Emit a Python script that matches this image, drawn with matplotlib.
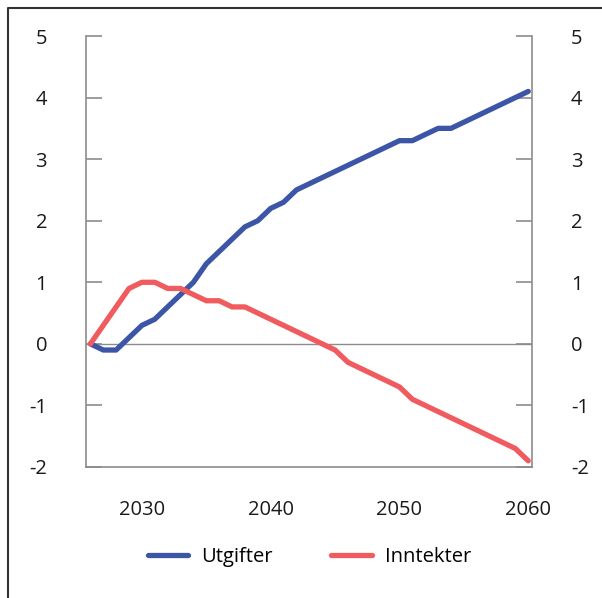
import matplotlib
matplotlib.use("Agg")
import matplotlib.pyplot as plt
from matplotlib.lines import Line2D

plt.rcParams['font.family'] = ['Open Sans', 'DejaVu Sans']

years = list(range(2026, 2061))
utgifter = [0.0, -0.1, -0.1, 0.1, 0.3, 0.4, 0.6, 0.8, 1.0, 1.3,
            1.5, 1.7, 1.9, 2.0, 2.2, 2.3, 2.5, 2.6, 2.7, 2.8,
            2.9, 3.0, 3.1, 3.2, 3.3, 3.3, 3.4, 3.5, 3.5, 3.6,
            3.7, 3.8, 3.9, 4.0, 4.1]
inntekter = [0.0, 0.3, 0.6, 0.9, 1.0, 1.0, 0.9, 0.9, 0.8, 0.7,
             0.7, 0.6, 0.6, 0.5, 0.4, 0.3, 0.2, 0.1, 0.0, -0.1,
             -0.3, -0.4, -0.5, -0.6, -0.7, -0.9, -1.0, -1.1, -1.2, -1.3,
             -1.4, -1.5, -1.6, -1.7, -1.9]
series_names = ["Utgifter", "Inntekter"]
xticks = [2030, 2040, 2050, 2060]
yticks = [-2, -1, 0, 1, 2, 3, 4, 5]

blue = "#3d55a6"
red = "#f05b5f"
gray = "#8c8c8c"
fs = 14.5

fig = plt.figure(figsize=(6.02, 5.98), dpi=100)
ax = fig.add_axes([86/602, 1-467/598, (532-86)/602, (467-36)/598])

ax.axhline(0, color=gray, lw=1.0, zorder=1)
ax.plot(years, utgifter, color=blue, lw=3.8, label=series_names[0],
        solid_capstyle='round', zorder=3)
ax.plot(years, inntekter, color=red, lw=3.8, label=series_names[1],
        solid_capstyle='round', zorder=3)

ax.set_xlim(2025.66, 2060.29)
ax.set_ylim(-2, 5)
ax.set_xticks(xticks)
ax.set_yticks(yticks)

for s in ['left', 'right', 'bottom']:
    ax.spines[s].set_color(gray)
    ax.spines[s].set_linewidth(1.2)
ax.spines['top'].set_visible(False)

ax.tick_params(axis='y', which='both', direction='in', length=11.5, width=1.2,
               color=gray, labelsize=fs, pad=28, left=True, right=True,
               labelleft=True, labelright=True, labelcolor='#1a1a1a')
ax.tick_params(axis='x', length=0, labelsize=fs, pad=24, labelcolor='#1a1a1a')
ax.set_yticklabels([str(v) for v in yticks])

fig.legend(handles=ax.get_lines()[1:], labels=series_names, loc='center',
           bbox_to_anchor=(0.514, 1-557/598), ncol=2, frameon=False,
           fontsize=fs, handlelength=2.0, handletextpad=0.65, columnspacing=2.9)

# partial frame border
fig.add_artist(Line2D([8/602, 8/602, 1.0], [0.0, 1-8/598, 1-8/598],
                      transform=fig.transFigure, color='#333333', lw=1.5))

fig.savefig("out.png", dpi=100)
